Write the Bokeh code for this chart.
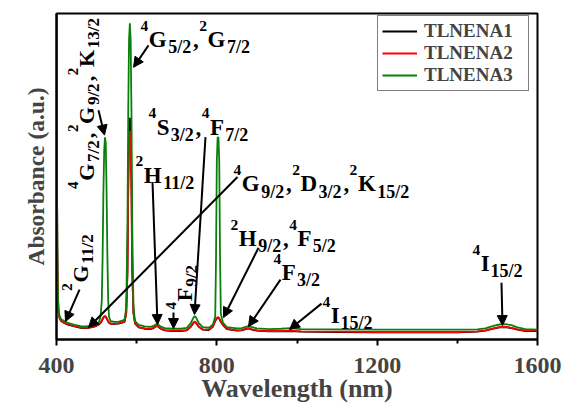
import math
from bokeh.plotting import figure
from bokeh.models import Range1d, FixedTicker, Label, Arrow, NormalHead
from bokeh.embed import file_html
from bokeh.resources import INLINE

# ---------------- data ----------------
wavelength = [400, 401, 402, 403, 405, 408, 412, 420, 430, 445,
              460, 475, 490, 500, 506, 510, 513, 515, 517, 519,
              521, 523, 525, 527, 529, 531, 535, 545, 555, 565,
              570, 574, 577, 579, 581, 583, 585, 587, 589, 592,
              596, 605, 620, 635, 642, 651, 660, 670, 690, 710,
              725, 735, 742, 745, 748, 755, 765, 780, 790, 796,
              798, 800, 802, 804, 806, 808, 810, 815, 825, 850,
              862, 872, 878, 888, 900, 930, 960, 985, 1010, 1100,
              1200, 1300, 1400, 1450, 1470, 1490, 1505, 1520, 1535, 1550,
              1570, 1585, 1600]

tlnena1 = [1.05, 0.58, 0.28, 0.15, 0.085, 0.064, 0.056, 0.050, 0.045, 0.040,
           0.036, 0.035, 0.038, 0.042, 0.046, 0.051, 0.057, 0.062, 0.067, 0.070,
           0.071, 0.069, 0.065, 0.060, 0.055, 0.051, 0.048, 0.048, 0.049, 0.052,
           0.055, 0.082, 0.21, 0.48, 0.64, 0.68, 0.64, 0.48, 0.21, 0.082,
           0.049, 0.037, 0.033, 0.032, 0.035, 0.042, 0.033, 0.028, 0.026, 0.026,
           0.028, 0.039, 0.051, 0.054, 0.051, 0.039, 0.030, 0.029, 0.039, 0.057,
           0.061, 0.064, 0.067, 0.067, 0.064, 0.059, 0.054, 0.045, 0.032, 0.027,
           0.028, 0.032, 0.034, 0.030, 0.027, 0.025, 0.025, 0.026, 0.024, 0.023,
           0.022, 0.022, 0.022, 0.024, 0.027, 0.033, 0.037, 0.038, 0.035, 0.030,
           0.026, 0.026, 0.026]

tlnena2 = [1.05, 0.58, 0.28, 0.15, 0.085, 0.065, 0.057, 0.051, 0.046, 0.041,
           0.037, 0.036, 0.039, 0.043, 0.047, 0.052, 0.058, 0.063, 0.068, 0.071,
           0.072, 0.070, 0.066, 0.061, 0.056, 0.052, 0.049, 0.049, 0.050, 0.053,
           0.056, 0.080, 0.20, 0.45, 0.60, 0.64, 0.60, 0.45, 0.20, 0.080,
           0.050, 0.038, 0.034, 0.033, 0.036, 0.043, 0.034, 0.029, 0.027, 0.027,
           0.029, 0.040, 0.052, 0.055, 0.052, 0.040, 0.031, 0.030, 0.040, 0.058,
           0.062, 0.065, 0.068, 0.068, 0.065, 0.060, 0.055, 0.046, 0.033, 0.028,
           0.029, 0.033, 0.035, 0.031, 0.028, 0.026, 0.026, 0.027, 0.025, 0.024,
           0.023, 0.023, 0.023, 0.025, 0.028, 0.034, 0.038, 0.039, 0.036, 0.031,
           0.027, 0.027, 0.027]

tlnena3 = [1.05, 0.60, 0.30, 0.16, 0.090, 0.070, 0.062, 0.056, 0.050, 0.045,
           0.041, 0.040, 0.043, 0.048, 0.054, 0.070, 0.12, 0.25, 0.45, 0.58,
           0.62, 0.60, 0.45, 0.25, 0.12, 0.070, 0.056, 0.054, 0.055, 0.058,
           0.062, 0.10, 0.35, 0.70, 0.92, 0.97, 0.92, 0.70, 0.35, 0.10,
           0.056, 0.045, 0.040, 0.039, 0.042, 0.048, 0.040, 0.035, 0.033, 0.033,
           0.036, 0.050, 0.068, 0.072, 0.068, 0.050, 0.038, 0.036, 0.045, 0.070,
           0.25, 0.55, 0.62, 0.62, 0.55, 0.25, 0.080, 0.052, 0.038, 0.034,
           0.035, 0.039, 0.041, 0.038, 0.034, 0.032, 0.033, 0.035, 0.032, 0.031,
           0.030, 0.030, 0.030, 0.031, 0.034, 0.042, 0.046, 0.047, 0.044, 0.037,
           0.032, 0.031, 0.030]

series_names = ["TLNENA1", "TLNENA2", "TLNENA3"]
series_colors = ["#000000", "#ff0000", "#0a800a"]
x_major_ticks = [400, 800, 1200, 1600]
x_minor_ticks = [600, 1000, 1400]

# ---------------- figure ----------------
FL, FR, FT, FB = 56, 537, 13, 340   # frame edges in page pixels
p = figure(width=569, height=405, output_backend="svg", toolbar_location=None,
           title=None, x_range=Range1d(400, 1600), y_range=Range1d(0, 1),
           min_border_left=FL, min_border_right=569 - FR,
           min_border_top=FT, min_border_bottom=405 - FB)
p.grid.visible = False
p.background_fill_color = "white"
p.border_fill_color = "white"
p.outline_line_color = "black"
p.outline_line_width = 2

FONT = "Liberation Serif"

for ys, name, col in zip([tlnena1, tlnena2, tlnena3], series_names, series_colors):
    p.line(wavelength, ys, line_color=col, line_width=1.8, legend_label=name)

xa = p.xaxis[0]
xa.ticker = FixedTicker(ticks=x_major_ticks, minor_ticks=x_minor_ticks)
xa.axis_label = "Wavelength (nm)"
xa.axis_label_text_font = FONT
xa.axis_label_text_font_style = "bold"
xa.axis_label_text_font_size = "26px"
xa.axis_label_text_line_height = 1.0
xa.axis_label_standoff = -2
xa.major_label_text_font = FONT
xa.major_label_text_font_style = "bold"
xa.major_label_text_font_size = "24px"
xa.major_label_text_line_height = 1.0
xa.major_label_standoff = 12
xa.major_tick_out = 6
xa.major_tick_in = 0
xa.minor_tick_out = 4
xa.minor_tick_in = 0
xa.major_tick_line_width = 2
xa.minor_tick_line_width = 2
xa.axis_line_width = 2

ya = p.yaxis[0]
ya.ticker = FixedTicker(ticks=[])
ya.axis_label = "Absorbance (a.u.)"
ya.axis_label_text_font = FONT
ya.axis_label_text_font_style = "bold"
ya.axis_label_text_font_size = "23.5px"
ya.axis_label_standoff = 8
ya.major_tick_line_color = None
ya.minor_tick_line_color = None
ya.axis_line_width = 2

leg = p.legend[0]
leg.location = (321, 248)
leg.label_text_font = FONT
leg.label_text_font_style = "bold"
leg.label_text_font_size = "19px"
leg.label_text_line_height = 1.0
leg.glyph_width = 35
leg.glyph_height = 20
leg.label_height = 20
leg.label_width = 100
leg.label_standoff = 7
leg.spacing = 0
leg.padding = 4
leg.margin = 0
leg.border_line_color = "black"
leg.border_line_width = 1
leg.background_fill_alpha = 1.0


# ---------------- annotations ----------------
def px2x(px):
    return 400 + (px - FL) * 1200.0 / (FR - FL)


def py2y(py):
    return (FB - py) / float(FB - FT)


ADV = {"0": .5, "1": .5, "2": .5, "3": .5, "4": .5, "5": .5, "6": .5, "7": .5,
       "8": .5, "9": .5, "/": .278, ",": .25, "G": .778, "K": .778, "S": .556,
       "F": .611, "H": .778, "D": .722, "I": .389}


def rich(px, py, segs, vertical=False):
    if vertical:
        main, sup, sub, stretch = 22, 15, 17, 1.1
    else:
        main, sup, sub, stretch = 23, 15.5, 18, 1.08
    pos = 0.0
    for txt, kind in segs:
        if kind == "n":
            size, shift = main, 0.0
        elif kind == "sup":
            size, shift = sup, 0.6 * main
        else:
            size, shift = sub, -0.33 * main
        if vertical:
            x, y, ang = px - shift, py - pos, math.pi / 2
        else:
            x, y, ang = px + pos, py - shift, 0.0
        p.add_layout(Label(x=px2x(x), y=py2y(y), text=txt, angle=ang,
                           text_font=FONT, text_font_style="bold",
                           text_font_size=f"{size}px", text_color="black",
                           text_baseline="alphabetic", text_align="left"))
        pos += sum(ADV.get(c, .5) for c in txt) * size * stretch


def arrow(x0, y0, x1, y1):
    p.add_layout(Arrow(end=NormalHead(size=10, fill_color="black", line_color="black", line_width=1),
                       x_start=px2x(x0), y_start=py2y(y0), x_end=px2x(x1), y_end=py2y(y1),
                       line_color="black", line_width=2))


S, N, B = "sup", "n", "sub"
rich(140, 39, [("4", S), ("G", N), ("5/2", B), (",", N), ("2", S), ("G", N), ("7/2", B)])
arrow(148, 45, 133, 67)

rich(86, 189, [("4", S), ("G", N), ("7/2", B), (",", N), ("2", S), ("G", N), ("9/2", B),
               (",", N), ("2", S), ("K", N), ("13/2", B)], vertical=True)
arrow(98, 110, 104, 135)

rich(148, 127, [("4", S), ("S", N), ("3/2", B), (",", N), ("4", S), ("F", N), ("7/2", B)])
arrow(205, 137, 194, 315)

rich(135, 175, [("2", S), ("H", N), ("11/2", B)])
arrow(152, 182, 157, 325)

rich(233, 184, [("4", S), ("G", N), ("9/2", B), (",", N), ("2", S), ("D", N), ("3/2", B),
                (",", N), ("2", S), ("K", N), ("15/2", B)])
arrow(237, 177, 88, 328)

rich(184, 310, [("4", S), ("F", N), ("9/2", B)], vertical=True)
arrow(173, 313, 173, 329)

rich(80, 291, [("2", S), ("G", N), ("11/2", B)], vertical=True)
arrow(79, 290, 65, 322)

rich(230, 239, [("2", S), ("H", N), ("9/2", B), (",", N), ("4", S), ("F", N), ("5/2", B)])
arrow(258, 248, 223, 318)

rich(273, 273, [("4", S), ("F", N), ("3/2", B)])
arrow(280, 280, 248, 327)

rich(322, 316, [("4", S), ("I", N), ("15/2", B)])
arrow(321, 304, 289, 330)

rich(472, 264, [("4", S), ("I", N), ("15/2", B)])
arrow(501, 283, 502, 326)

open("out.html", "w").write(file_html(p, INLINE))
